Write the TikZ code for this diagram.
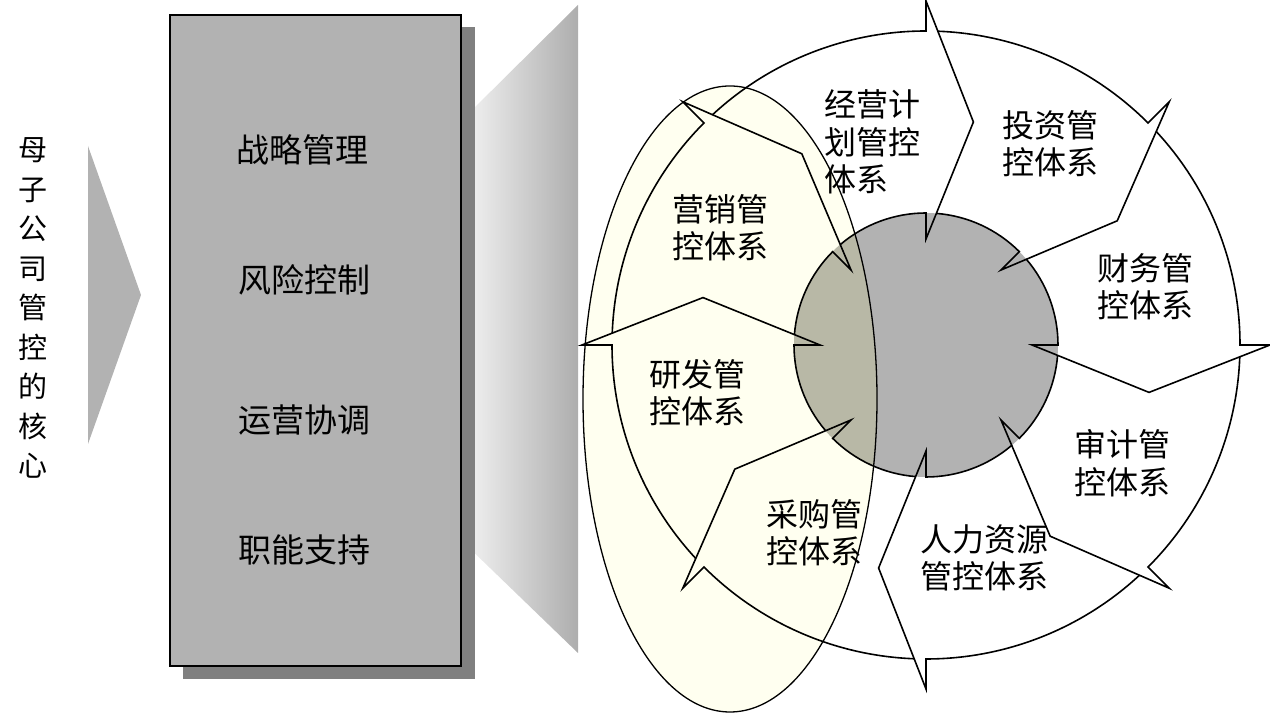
\documentclass[tikz,border=0pt]{standalone}
\usepackage{fontspec}
\setmainfont{Noto Sans CJK SC}

\definecolor{kastgrijs}{HTML}{B2B2B2}
\definecolor{schaduw}{HTML}{808080}
\definecolor{room}{HTML}{FFFFF0}
\definecolor{overlap}{HTML}{B8B8A6}

\tikzset{
  kasttekst/.style={inner sep=0pt, font=\fontsize{33}{38}\selectfont},
  ringtekst/.style={inner sep=0pt, align=center, font=\fontsize{32}{37.5}\selectfont},
  pijl/.style={draw=black, line width=1.6pt, line join=miter},
}

\begin{document}
\begin{tikzpicture}[x=1pt,y=1pt]
    \useasboundingbox (0,0) rectangle (1270,714);

    % Trechter achter de kast
    \shade[left color=black!4, right color=black!32]
      (461,593) -- (578,709) -- (578,61) -- (461,174) -- cycle;

    % Kast met schaduw
    \fill[schaduw] (183,35) rectangle (475,687);
    \filldraw[fill=kastgrijs, draw=black, line width=1.5pt] (170,48) rectangle (461,699);

    % Punt
    \fill[kastgrijs] (88,568) -- (141,419) -- (88,270) -- cycle;

    % Teksten links
    \node[align=center, inner sep=0pt, font=\fontsize{29}{39.5}\selectfont] (kern) at (33,406)
      {母\\子\\公\\司\\管\\控\\的\\核\\心};
    \node[kasttekst] (zhanlue) at (302,564) {战略管理};
    \node[kasttekst] (fengxian) at (304,434) {风险控制};
    \node[kasttekst] (yunying) at (304,294) {运营协调};
    \node[kasttekst] (zhineng) at (304,164) {职能支持};

    % Ellips en kern
    \fill[room] (730,315) ellipse [x radius=147, y radius=313];
    \fill[kastgrijs] (926,369) circle [radius=132];
    \begin{scope}
      \clip (730,315) ellipse [x radius=147, y radius=313];
      \fill[overlap] (926,369) circle [radius=132];
    \end{scope}

    % acht pijlen rond de kern
    \begin{scope}[shift={(926,369)}]
      \foreach \h in {0,-45,...,-315} {
        \draw[pijl, rotate=\h] (132.84:314) arc [start angle=132.84, end angle=90, radius=314]
          -- (90:344) -- (78:228) -- (90:106) -- (90:132)
          arc [start angle=90, end angle=130.5, radius=132];
      }
    \end{scope}
    \draw[line width=1.3pt] (730,315) ellipse [x radius=147, y radius=313];

    % Teksten in de ring
    \node[ringtekst, align=left, anchor=west] (jingying) at (824,572) {经营计\\划管控\\体系};
    \node[ringtekst] (touzi) at (1050,570) {投资管\\控体系};
    \node[ringtekst] (caiwu) at (1145,427) {财务管\\控体系};
    \node[ringtekst] (shenji) at (1122,251) {审计管\\控体系};
    \node[ringtekst] (renli) at (984,156) {人力资源\\管控体系};
    \node[ringtekst] (caigou) at (814,181) {采购管\\控体系};
    \node[ringtekst] (yanfa) at (697,321) {研发管\\控体系};
    \node[ringtekst] (yingxiao) at (720,486) {营销管\\控体系};
\end{tikzpicture}
\end{document}
